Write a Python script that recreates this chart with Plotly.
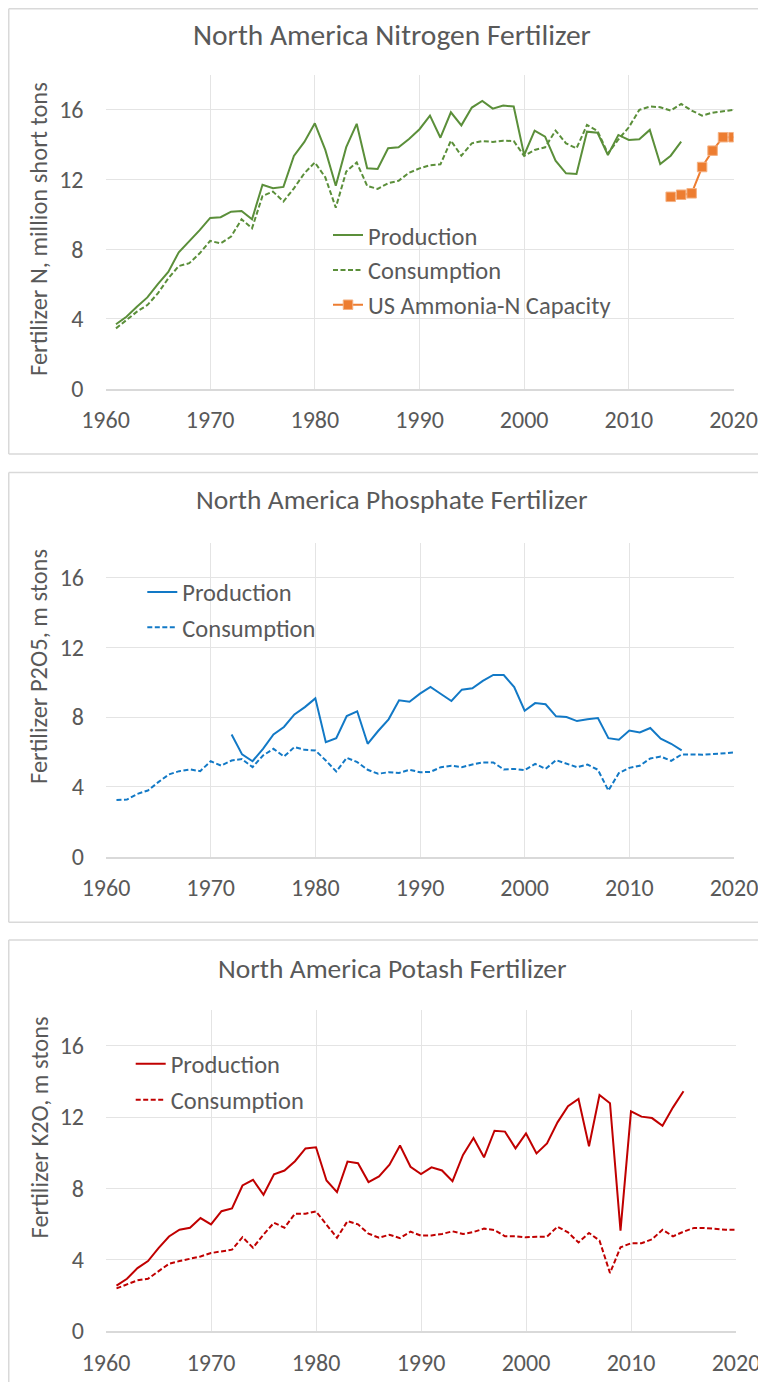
import plotly.graph_objects as go

# page body adds an 8px margin; the figure is laid out in reference pixels
OX, OY = 8, 8
W, H = 758, 1374

# ---------------- Nitrogen ----------------
n_prod_years = list(range(1961, 2016))
n_prod = [3.7, 4.13, 4.7, 5.24, 6.0, 6.7, 7.83, 8.44, 9.1, 9.8,
          9.84, 10.16, 10.2, 9.72, 11.7, 11.5, 11.58, 13.36, 14.16, 15.23,
          13.7, 11.64, 13.86, 15.2, 12.65, 12.61, 13.8, 13.85, 14.33, 14.89,
          15.67, 14.4, 15.86, 15.11, 16.13, 16.51, 16.07, 16.25, 16.19, 13.41,
          14.81, 14.46, 13.08, 12.36, 12.32, 14.75, 14.69, 13.41, 14.56, 14.27,
          14.31, 14.85, 12.89, 13.37, 14.18]
n_cons_years = list(range(1961, 2021))
n_cons = [3.46, 3.94, 4.42, 4.8, 5.47, 6.33, 7.04, 7.2, 7.77, 8.48,
          8.34, 8.73, 9.72, 9.2, 11.06, 11.31, 10.74, 11.5, 12.36, 12.98,
          12.13, 10.39, 12.46, 12.98, 11.64, 11.46, 11.79, 11.93, 12.39, 12.64,
          12.82, 12.87, 14.23, 13.37, 14.08, 14.21, 14.16, 14.23, 14.21, 13.35,
          13.7, 13.85, 14.81, 14.08, 13.79, 15.13, 14.79, 13.5, 14.3, 15.0,
          16.0, 16.19, 16.15, 15.96, 16.34, 15.96, 15.67, 15.84, 15.94, 16.0]
cap_years = [2014, 2015, 2016, 2017, 2018, 2019, 2020]
cap_n = [11.01, 11.13, 11.21, 12.72, 13.66, 14.43, 14.43]

# ---------------- Phosphate ----------------
p_prod_years = list(range(1972, 2016))
p_prod = [7.0, 5.86, 5.47, 6.18, 7.0, 7.43, 8.15, 8.57, 9.07, 6.56,
          6.79, 8.06, 8.33, 6.47, 7.2, 7.87, 8.96, 8.88, 9.34, 9.72,
          9.32, 8.92, 9.57, 9.65, 10.07, 10.41, 10.41, 9.72, 8.36, 8.8,
          8.73, 8.04, 8.0, 7.77, 7.87, 7.94, 6.79, 6.7, 7.23, 7.12,
          7.37, 6.76, 6.47, 6.09]
p_cons_years = list(range(1961, 2021))
p_cons = [3.25, 3.27, 3.6, 3.79, 4.27, 4.71, 4.9, 5.0, 4.9, 5.47,
          5.22, 5.51, 5.59, 5.13, 5.8, 6.18, 5.74, 6.28, 6.12, 6.09,
          5.51, 4.88, 5.67, 5.42, 4.98, 4.75, 4.84, 4.8, 4.98, 4.84,
          4.86, 5.13, 5.21, 5.13, 5.28, 5.4, 5.4, 5.0, 5.03, 4.96,
          5.32, 5.03, 5.53, 5.32, 5.13, 5.28, 4.98, 3.79, 4.79, 5.09,
          5.21, 5.63, 5.74, 5.49, 5.86, 5.86, 5.84, 5.88, 5.92, 5.97]

# ---------------- Potash ----------------
k_prod_years = list(range(1961, 2016))
k_prod = [2.54, 2.93, 3.53, 3.92, 4.65, 5.3, 5.68, 5.79, 6.33, 5.98,
          6.72, 6.87, 8.16, 8.48, 7.64, 8.79, 9.0, 9.52, 10.24, 10.3,
          8.44, 7.79, 9.5, 9.41, 8.35, 8.67, 9.32, 10.4, 9.21, 8.8,
          9.18, 9.0, 8.4, 9.87, 10.82, 9.74, 11.23, 11.18, 10.24, 11.08,
          9.96, 10.52, 11.7, 12.6, 13.01, 10.36, 13.23, 12.77, 5.63, 12.32,
          12.02, 11.94, 11.51, 12.54, 13.44]
k_cons_years = list(range(1961, 2021))
k_cons = [2.39, 2.61, 2.84, 2.93, 3.34, 3.77, 3.92, 4.05, 4.18, 4.37,
          4.48, 4.56, 5.26, 4.67, 5.41, 6.07, 5.79, 6.58, 6.58, 6.71,
          5.96, 5.23, 6.16, 5.98, 5.46, 5.23, 5.4, 5.21, 5.57, 5.35,
          5.36, 5.44, 5.59, 5.44, 5.55, 5.74, 5.66, 5.31, 5.31, 5.25,
          5.29, 5.29, 5.85, 5.53, 4.97, 5.5, 5.07, 3.25, 4.69, 4.92,
          4.92, 5.14, 5.68, 5.31, 5.57, 5.78, 5.78, 5.72, 5.68, 5.68]

titles = ["North America Nitrogen Fertilizer",
          "North America Phosphate Fertilizer",
          "North America Potash Fertilizer"]
ylabels = ["Fertilizer N, million short tons",
           "Fertilizer P2O5, m stons",
           "Fertilizer K2O, m stons"]
x_ticks = [1960, 1970, 1980, 1990, 2000, 2010, 2020]
y_ticks = [0, 4, 8, 12, 16]

FONT = "Carlito, Calibri, Lato, sans-serif"
TXT = "#595959"
GRID = "#e4e4e4"
GREEN = "#5b8f3a"
BLUE = "#1279c6"
RED = "#c00000"
ORANGE = "#ed7d31"
DASH = "5px,2.5px"


def px(x):
    return (x - OX) / W


def py(y):
    return 1 - (y - OY) / H


fig = go.Figure()

fig.add_trace(go.Scatter(x=n_prod_years, y=n_prod, name="Production", mode="lines",
                         line=dict(color=GREEN, width=2), xaxis="x", yaxis="y",
                         legend="legend", legendgroup="a"))
fig.add_trace(go.Scatter(x=n_cons_years, y=n_cons, name="Consumption", mode="lines",
                         line=dict(color=GREEN, width=2, dash=DASH), xaxis="x", yaxis="y",
                         legend="legend", legendgroup="b"))
fig.add_trace(go.Scatter(x=cap_years, y=cap_n, name="US Ammonia-N Capacity", mode="lines+markers",
                         line=dict(color=ORANGE, width=2),
                         marker=dict(symbol="square", size=9.5, color=ORANGE,
                                     line=dict(color="#f4b183", width=1)),
                         xaxis="x", yaxis="y", legend="legend", legendgroup="c"))
fig.add_trace(go.Scatter(x=p_prod_years, y=p_prod, name="Production", mode="lines",
                         line=dict(color=BLUE, width=2), xaxis="x2", yaxis="y2",
                         legend="legend2", legendgroup="d"))
fig.add_trace(go.Scatter(x=p_cons_years, y=p_cons, name="Consumption", mode="lines",
                         line=dict(color=BLUE, width=2, dash=DASH), xaxis="x2", yaxis="y2",
                         legend="legend2", legendgroup="e"))
fig.add_trace(go.Scatter(x=k_prod_years, y=k_prod, name="Production", mode="lines",
                         line=dict(color=RED, width=2), xaxis="x3", yaxis="y3",
                         legend="legend3", legendgroup="f"))
fig.add_trace(go.Scatter(x=k_cons_years, y=k_cons, name="Consumption", mode="lines",
                         line=dict(color=RED, width=2, dash=DASH), xaxis="x3", yaxis="y3",
                         legend="legend3", legendgroup="g"))

panels = [
    (105.5, 733.5, 75, 388.7),
    (106, 734, 542.5, 856.7),
    (106, 736, 1010, 1331),
]
title_y = [35, 500, 968]
title_size = [29.5, 27.5, 27.5]
ylab_y = [229, 667, 1127.5]
borders = [(8.75, 454), (472.5, 922.3), (940, None)]

layout = dict(
    width=W, height=H,
    margin=dict(l=0, r=0, t=0, b=0, autoexpand=False),
    paper_bgcolor="white", plot_bgcolor="white",
    font=dict(family=FONT, color=TXT, size=24),
    showlegend=True,
)

for i, (xl, xr, yt, yb) in enumerate(panels):
    sfx = "" if i == 0 else str(i + 1)
    layout["xaxis" + sfx] = dict(
        domain=[px(xl), px(xr)], range=[1960, 2020], tickvals=x_ticks,
        showgrid=True, gridcolor=GRID, gridwidth=1.2,
        showline=True, linecolor="#d9d9d9", linewidth=1.5,
        zeroline=False, ticks="", ticklabelstandoff=9, automargin=False,
        tickfont=dict(size=24, color=TXT, family=FONT),
        anchor="y" + sfx, fixedrange=True,
    )
    layout["yaxis" + sfx] = dict(
        domain=[py(yb), py(yt)], range=[0, 18], tickvals=y_ticks,
        showgrid=True, gridcolor=GRID, gridwidth=1.2,
        showline=False, zeroline=False, ticks="", ticklabelstandoff=21, automargin=False,
        tickfont=dict(size=24, color=TXT, family=FONT),
        anchor="x" + sfx, fixedrange=True,
    )

LEGFONT = dict(size=24.5, color=TXT, family=FONT)
layout["legend"] = dict(x=px(328), y=py(212.6), xanchor="left", yanchor="top",
                        bgcolor="rgba(0,0,0,0)", font=LEGFONT,
                        traceorder="grouped", tracegroupgap=0, itemwidth=30)
layout["legend2"] = dict(x=px(142.3), y=py(569.5), xanchor="left", yanchor="top",
                         bgcolor="rgba(0,0,0,0)", font=LEGFONT,
                         traceorder="grouped", tracegroupgap=0.5, itemwidth=30)
layout["legend3"] = dict(x=px(130.7), y=py(1041.4), xanchor="left", yanchor="top",
                         bgcolor="rgba(0,0,0,0)", font=LEGFONT,
                         traceorder="grouped", tracegroupgap=1, itemwidth=30)

annotations = []
for i in range(3):
    annotations.append(dict(text=titles[i], x=px(392), y=py(title_y[i]),
                            xref="paper", yref="paper", xanchor="center", yanchor="middle",
                            showarrow=False, font=dict(size=title_size[i], color=TXT, family=FONT)))
    annotations.append(dict(text=ylabels[i], x=px(39), y=py(ylab_y[i]),
                            xref="paper", yref="paper", xanchor="center", yanchor="middle",
                            textangle=-90, showarrow=False,
                            font=dict(size=24.5, color=TXT, family=FONT)))
layout["annotations"] = annotations

shapes = []
BL = dict(color="#d9d9d9", width=1.5)
LX = 8.75
for (t, b) in borders:
    bb = b if b is not None else OY + H
    shapes.append(dict(type="line", xref="paper", yref="paper", x0=px(LX), x1=1,
                       y0=py(t), y1=py(t), line=BL, layer="below"))
    shapes.append(dict(type="line", xref="paper", yref="paper", x0=px(LX), x1=px(LX),
                       y0=py(bb), y1=py(t), line=BL, layer="below"))
    if b is not None:
        shapes.append(dict(type="line", xref="paper", yref="paper", x0=px(LX), x1=1,
                           y0=py(b), y1=py(b), line=BL, layer="below"))
layout["shapes"] = shapes

fig.update_layout(**layout)
fig.write_html("out.html")
